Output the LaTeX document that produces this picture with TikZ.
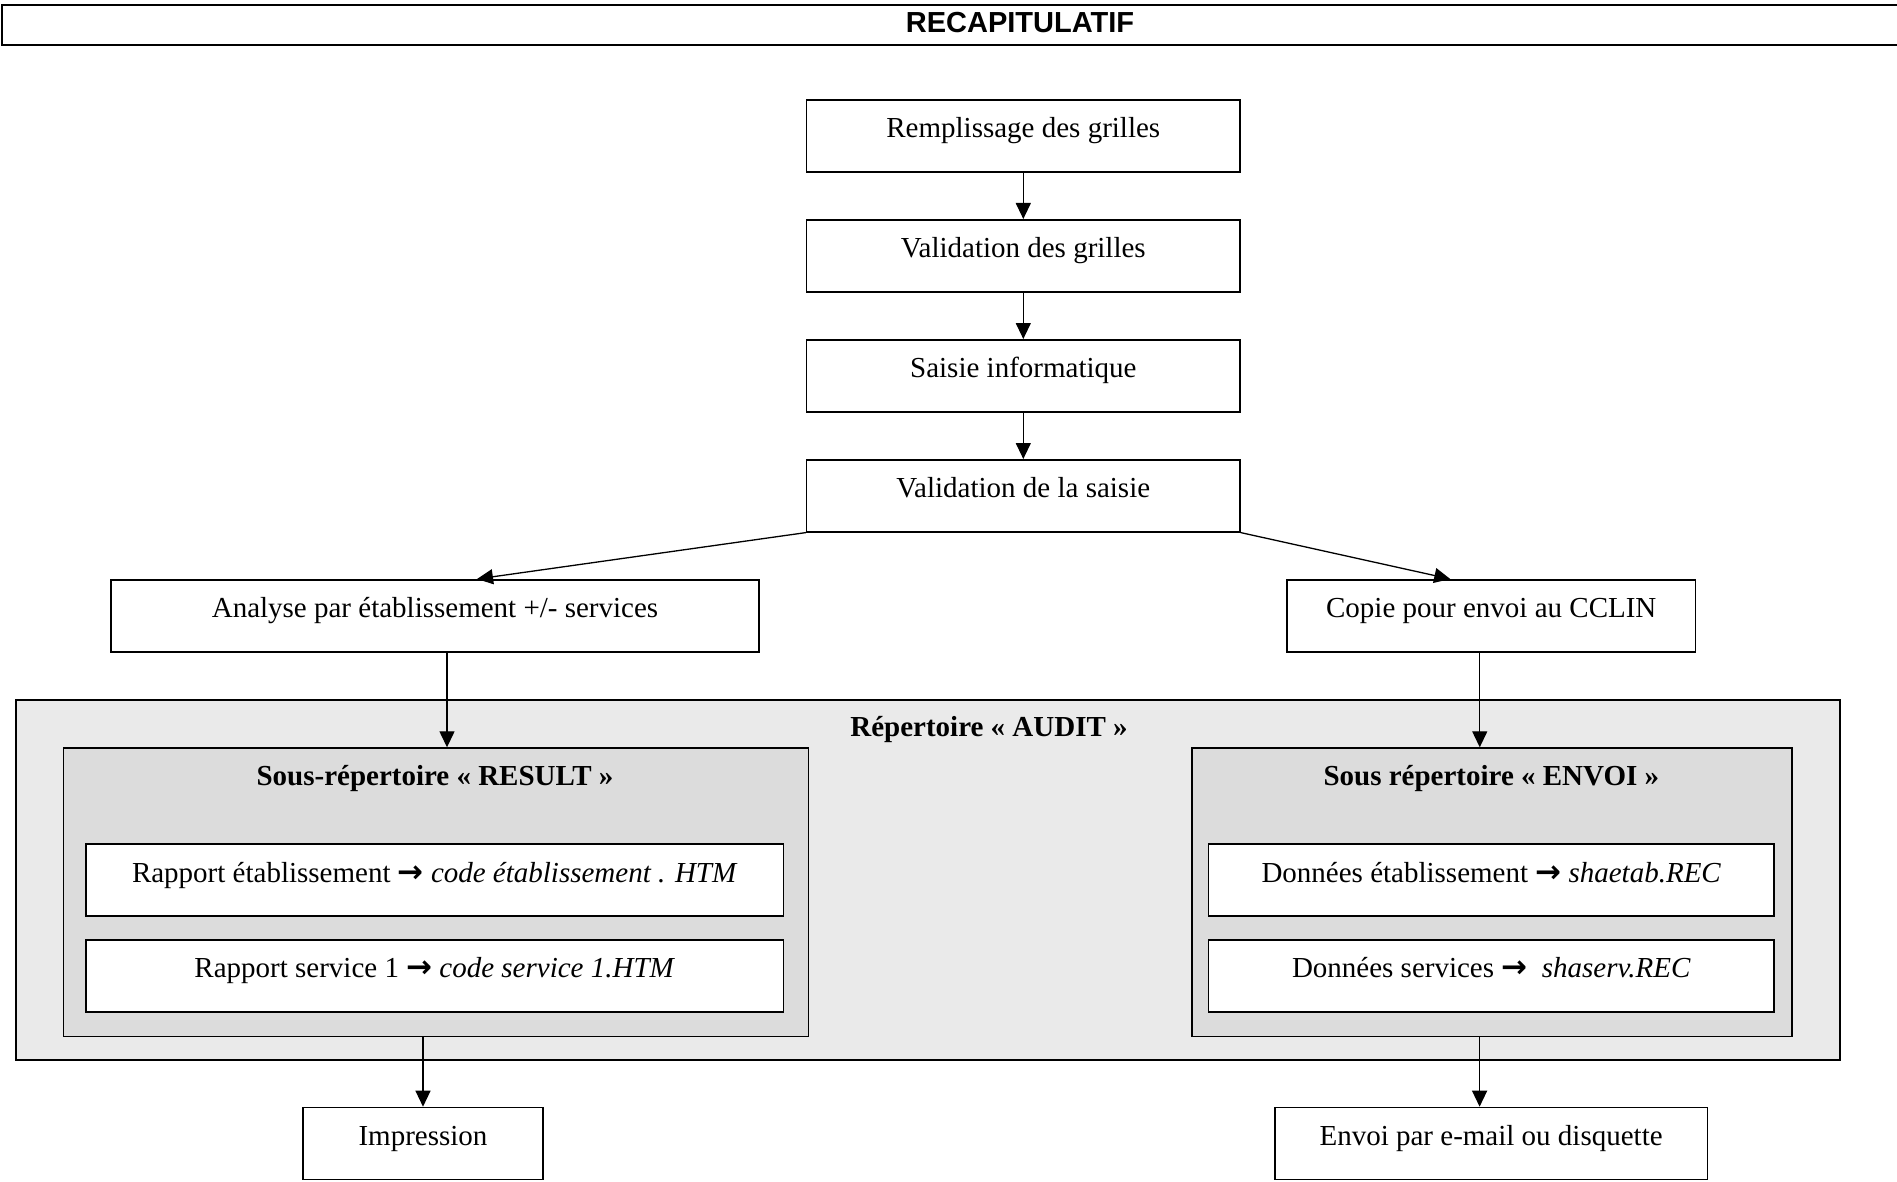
\documentclass[tikz,border=0pt]{standalone}
\usepackage{fontspec}
\setmainfont{Liberation Serif}
\newfontfamily\arialfont{Liberation Sans}
\newfontfamily\dejavufont{DejaVu Sans}
\usetikzlibrary{arrows.meta}
\definecolor{auditgray}{HTML}{EAEAEA}
\definecolor{subgray}{HTML}{DCDCDC}
\newcommand{\rarr}{{\dejavufont\bfseries\fontsize{31}{34}\selectfont →}}
\begin{document}
\begin{tikzpicture}[x=1pt,y=-1pt,
  box/.style={draw=black, line width=1.6pt, fill=white, inner sep=0pt,
    text height=38pt, text depth=34pt, anchor=north,
    font=\fontsize{29}{34}\selectfont},
  container/.style={draw=black, line width=1.6pt, inner sep=0pt, anchor=north west},
  conn/.style={line width=1.3pt, -{Triangle[length=16pt,width=15pt]}},
  lbl/.style={anchor=base, inner sep=0pt, font=\fontsize{29}{34}\selectfont\bfseries}
]
\useasboundingbox (0,0) rectangle (1897,1182);

% title bar
\node[draw=black, line width=1.6pt, inner sep=0pt, anchor=north west,
  minimum width=1910pt, minimum height=40pt] (titlebox) at (1,4) {};
\node[anchor=base, inner sep=0pt, font=\arialfont\bfseries\fontsize{29}{32}\selectfont]
  (title) at (1020,32.6) {RECAPITULATIF};

% main chain
\node[box, minimum width=433.3pt] (r1) at (1023.3,99) {Remplissage des grilles};
\node[box, minimum width=433.3pt] (r2) at (1023.3,219) {Validation des grilles};
\node[box, minimum width=433.3pt] (r3) at (1023.3,339) {Saisie informatique};
\node[box, minimum width=433.3pt] (r4) at (1023.3,459) {Validation de la saisie};

\node[box, minimum width=648pt] (ana) at (435,579) {Analyse par établissement +/- services};
\node[box, minimum width=408.5pt] (cop) at (1491.25,579) {Copie pour envoi au CCLIN};

% containers
\node[container, fill=auditgray, minimum width=1824.4pt, minimum height=360pt] (audit) at (15,699) {};
\node[lbl] (audittitle) at (989,736.7) {Répertoire « AUDIT »};

\node[container, fill=subgray, minimum width=745.1pt, minimum height=288.4pt] (result) at (62.5,747.3) {};
\node[lbl] (resulttitle) at (435,785) {Sous-répertoire « RESULT »};

\node[container, fill=subgray, minimum width=599.9pt, minimum height=288.4pt] (envoi) at (1191.4,747.3) {};
\node[lbl] (envoititle) at (1491.3,785) {Sous répertoire « ENVOI »};

\node[box, minimum width=697.6pt] (rap1) at (434.8,843.3) {Rapport établissement \rarr\ \textit{code établissement . HTM}};
\node[box, minimum width=697.6pt] (rap2) at (434.8,939) {Rapport service 1 \rarr\ \textit{code service 1.HTM}};
\node[box, minimum width=565.4pt] (don1) at (1491.3,843.3) {Données établissement \rarr\ \textit{shaetab.REC}};
\node[box, minimum width=565.4pt] (don2) at (1491.3,939) {Données services \rarr\ \ \textit{shaserv.REC}};

\node[box, minimum width=240pt] (imp) at (423,1106.7) {Impression};
\node[box, minimum width=432.6pt] (env) at (1491.1,1106.7) {Envoi par e-mail ou disquette};

% connectors
\draw[conn] (r1.south) -- (r2.north);
\draw[conn] (r2.south) -- (r3.north);
\draw[conn] (r3.south) -- (r4.north);
\draw[conn] (r4.south west) -- ([xshift=42pt]ana.north);
\draw[conn] (r4.south east) -- ([xshift=-41pt]cop.north);
\draw[conn] ([xshift=12pt]ana.south) -- ([xshift=12pt]ana.south |- result.north);
\draw[conn] ([xshift=-11.5pt]cop.south) -- ([xshift=-11.5pt]cop.south |- envoi.north);
\draw[conn] (imp.north |- result.south) -- (imp.north);
\draw[conn] ([xshift=-11.5pt]env.north |- envoi.south) -- ([xshift=-11.5pt]env.north);
\end{tikzpicture}
\end{document}
